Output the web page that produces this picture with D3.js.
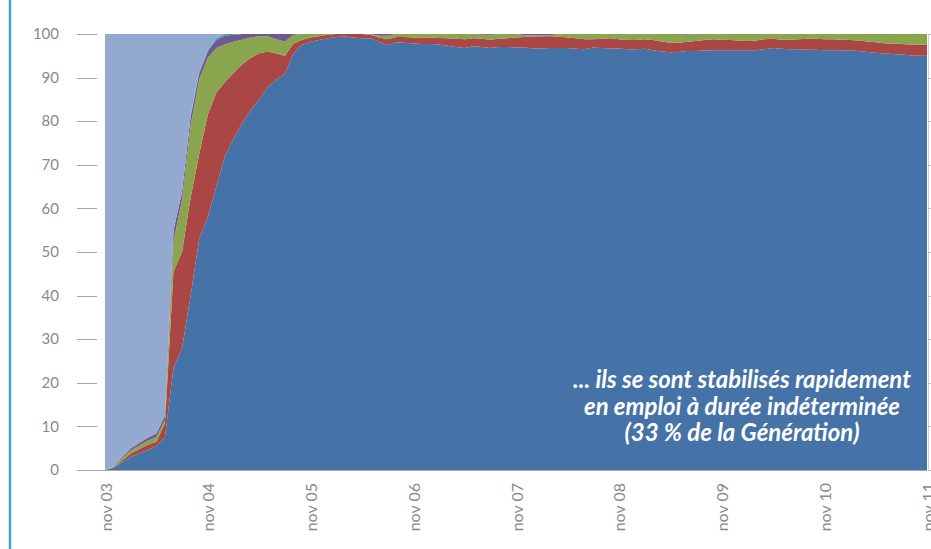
<!DOCTYPE html>
<html>
<head>
<meta charset="utf-8">
<script src="https://cdn.jsdelivr.net/npm/d3@7"></script>
<style>
  body { margin: 0; background: #fff; }
  svg { display: block; }
  .tick-label { font-family: Lato, "Open Sans", sans-serif; font-size: 15px; fill: #898989; }
  .x-label { font-size: 16px; }
  .note { font-family: Lato, "Open Sans", sans-serif; font-style: italic; font-weight: bold; fill: #fff; }
</style>
</head>
<body>
<div id="chart"></div>
<script>
// monthly situations, nov 03 -> nov 11 (97 months), % of the group
const edi = [0,0.5,1.8,3.0,3.8,4.6,5.5,7.5,23.5,28,
  40,53,58,65,72,76,79.5,82.5,85,87.8,
  89.5,90.8,95.5,97.5,98.2,98.6,99.0,99.3,99.4,99.2,
  99.0,99.0,98.2,97.5,98.1,98.0,97.8,97.7,97.7,97.6,
  97.3,97.0,96.8,97.2,97.0,96.8,97.0,97.0,96.9,96.9,
  96.7,96.7,96.8,96.8,96.8,96.6,96.5,96.9,96.8,96.7,
  96.7,96.5,96.5,96.6,96.3,96.0,95.8,95.9,96.1,96.1,
  96.2,96.3,96.3,96.3,96.3,96.3,96.3,96.5,96.8,96.6,
  96.5,96.5,96.4,96.4,96.3,96.3,96.3,96.2,96.1,95.9,
  95.7,95.5,95.4,95.3,95.1,95.0,95.0];
const edd = [0,0.1,0.4,0.8,1.0,1.2,1.0,3.3,22,22,
  22.5,19.5,23.5,21.5,17,15,13.5,12,10.6,8.2,
  6,4.2,2.3,1.1,1.0,0.9,0.8,0.7,0.6,0.8,
  1.0,0.8,1.0,1.3,1.2,1.3,1.4,1.5,1.5,1.5,
  1.7,1.9,2.0,1.8,1.9,1.9,1.9,2.0,2.3,2.4,
  2.7,2.8,2.7,2.6,2.4,2.4,2.3,1.9,2.1,2.3,
  2.1,2.1,2.1,2.2,2.3,2.3,2.2,2.1,2.1,2.3,
  2.4,2.5,2.4,2.3,2.2,2.1,2.2,2.3,2.1,2.1,
  2.2,2.3,2.5,2.5,2.5,2.5,2.4,2.4,2.4,2.4,
  2.4,2.4,2.4,2.4,2.5,2.6,2.5];
const chomage = [0,0.2,0.5,0.7,0.8,0.9,1.1,0.7,7,12,
  16.5,17,13,10.3,8.6,7.2,5.7,4.7,3.9,3.5,
  3.3,3.2,2.0,1.4,0.8,0.5,0.2,0,0,0,
  0,0.2,0.4,0.8,0.7,0.7,0.8,0.8,0.8,0.9,
  1.0,1.1,1.2,1.0,0.9,1.1,1.1,1.0,0.8,0.4,
  0.3,0.2,0.2,0.6,0.8,1.0,1.2,1.2,1.1,1.0,
  1.2,1.4,1.4,1.2,1.4,1.7,2.0,2.0,1.6,1.6,
  1.4,1.2,1.3,1.4,1.5,1.6,1.5,1.2,1.1,1.3,
  1.3,1.2,1.1,1.1,1.2,1.2,1.3,1.4,1.5,1.7,
  1.9,2.1,2.2,2.3,2.4,2.4,2.5];
const inactivite = [0,0.1,0.3,0.5,0.6,0.7,0.8,1.0,2.5,1.8,
  2.0,1.5,1.5,1.8,2.0,1.6,1.3,0.8,0.5,0.5,
  1.2,1.8,0.2,0,0,0,0,0,0,0,
  0,0,0.4,0.4,0,0,0,0,0,0,
  0,0,0,0,0.2,0.2,0,0,0,0.3,
  0.3,0.3,0.3,0,0,0,0,0,0,0,
  0,0,0,0,0,0,0,0,0.2,0,
  0,0,0,0,0,0,0,0,0,0,
  0,0,0,0,0,0,0,0,0,0,
  0,0,0,0,0,0,0];
const formation = [0,0,0,0,0,0,0,0,0,0.2,
  0.3,0.4,0.4,0.4,0.4,0.2,0,0,0,0,
  0,0,0,0,0,0,0,0,0,0,
  0,0,0,0,0,0,0,0,0,0,
  0,0,0,0,0,0,0,0,0,0,
  0,0,0,0,0,0,0,0,0,0,
  0,0,0,0,0,0,0,0,0,0,
  0,0,0,0,0,0,0,0,0,0,
  0,0,0,0,0,0,0,0,0,0,
  0,0,0,0,0,0,0];
const etudes = [100,99.1,97,95,93.8,92.6,91.6,87.5,45,36,
  18.7,8.6,3.6,1.0,0,0,0,0,0,0,
  0,0,0,0,0,0,0,0,0,0,
  0,0,0,0,0,0,0,0,0,0,
  0,0,0,0,0,0,0,0,0,0,
  0,0,0,0,0,0,0,0,0,0,
  0,0,0,0,0,0,0,0,0,0,
  0,0,0,0,0,0,0,0,0,0,
  0,0,0,0,0,0,0,0,0,0,
  0,0,0,0,0,0,0];

const xLabels = ["nov 03","nov 04","nov 05","nov 06","nov 07","nov 08","nov 09","nov 10","nov 11"];
const yTicks = [0,10,20,30,40,50,60,70,80,90,100];
const noteLines = ["... ils se sont stabilisés rapidement",
  "en emploi à durée indéterminée",
  "(33 % de la Génération)"];

const keys = ["edi","edd","chomage","inactivite","formation","etudes"];
const colors = ["#4572a7","#aa4643","#89a54e","#71588f","#4198af","#94a9cf"];

const width = 931, height = 549;
const plot = { left: 105, right: 927, top: 34, bottom: 470 };

const rows = edi.map((v, i) => ({
  m: i, edi: v, edd: edd[i], chomage: chomage[i],
  inactivite: inactivite[i], formation: formation[i], etudes: etudes[i]
}));

const x = d3.scaleLinear().domain([0, edi.length - 1]).range([plot.left, plot.right]);
const y = d3.scaleLinear().domain([0, 100]).range([plot.bottom, plot.top]);
const color = d3.scaleOrdinal().domain(keys).range(colors);

const stack = d3.stack().keys(keys);
const series = stack(rows);

const svg = d3.select("#chart").append("svg")
  .attr("width", width).attr("height", height);

svg.append("rect").attr("width", width).attr("height", height).attr("fill", "#fff");

// left frame border
svg.append("line")
  .attr("x1", 10).attr("x2", 10).attr("y1", 0).attr("y2", height)
  .attr("stroke", "#45a6c2").attr("stroke-width", 2.5);

const area = d3.area()
  .x(d => x(d.data.m))
  .y0(d => y(d[0]))
  .y1(d => y(d[1]));

svg.append("g").selectAll("path")
  .data(series)
  .enter().append("path")
  .attr("d", area)
  .attr("fill", d => color(d.key));

// y axis: short tick marks left of the plot, labels further left
const yAxis = svg.append("g");
yAxis.selectAll("line")
  .data(yTicks)
  .enter().append("line")
  .attr("x1", 77)
  .attr("x2", d => d === 0 ? plot.left : 97)
  .attr("y1", d => Math.round(y(d)) + 0.5)
  .attr("y2", d => Math.round(y(d)) + 0.5)
  .attr("stroke", "#a6a6a6");
yAxis.selectAll("text")
  .data(yTicks)
  .enter().append("text")
  .attr("class", "tick-label")
  .attr("x", 59)
  .attr("y", d => y(d))
  .attr("dy", "0.35em")
  .attr("text-anchor", "end")
  .text(d => d);

// right axis stubs
svg.append("line")
  .attr("x1", plot.right + 1.5).attr("x2", plot.right + 1.5)
  .attr("y1", plot.top).attr("y2", plot.bottom)
  .attr("stroke", "#cfcfcf");
svg.append("g").selectAll("line")
  .data(yTicks)
  .enter().append("line")
  .attr("x1", plot.right + 1).attr("x2", plot.right + 8)
  .attr("y1", d => Math.round(y(d)) + 0.5)
  .attr("y2", d => Math.round(y(d)) + 0.5)
  .attr("stroke", "#bdbdbd");

// x axis
svg.append("line")
  .attr("x1", plot.left).attr("x2", plot.right)
  .attr("y1", plot.bottom + 0.5).attr("y2", plot.bottom + 0.5)
  .attr("stroke", "#a6a6a6");

svg.append("g").selectAll("text")
  .data(xLabels)
  .enter().append("text")
  .attr("class", "tick-label x-label")
  .attr("transform", (d, i) => "translate(" + (x(i * 12) + 1) + "," + 483 + ") rotate(-90)")
  .attr("dy", "0.35em")
  .attr("text-anchor", "end")
  .text(d => d);

// annotation
const note = svg.append("g");
const lines = note.selectAll("text")
  .data(noteLines)
  .enter().append("text")
  .attr("class", "note")
  .attr("x", 742)
  .attr("y", (d, i) => 388 + i * 26.5)
  .attr("text-anchor", "middle")
  .style("font-size", "20px")
  .text(d => d);

const w = lines.node().getComputedTextLength();
if (w > 0) lines.style("font-size", (20 * 338 / w).toFixed(2) + "px");
</script>
</body>
</html>
